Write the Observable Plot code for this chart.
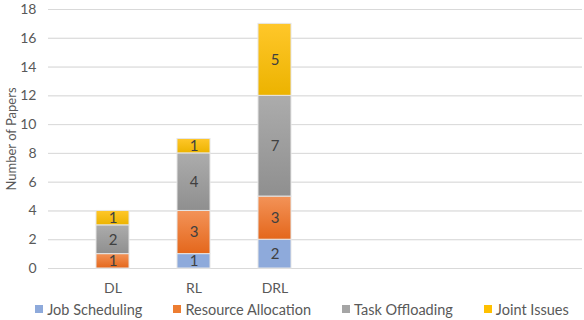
<!DOCTYPE html>
<html>
<head>
<meta charset="utf-8">
<script src="https://cdn.jsdelivr.net/npm/d3@7"></script>
<script src="https://cdn.jsdelivr.net/npm/@observablehq/plot@0.6"></script>
<style>
  html, body { margin: 0; padding: 0; background: #fff; }
  body { width: 584px; height: 320px; overflow: hidden; font-family: Lato, "Open Sans", sans-serif; }
  #legend { display: flex; justify-content: center; gap: 31px; font-size: 14.5px; color: #595959; height: 26px; align-items: center; margin-left: 20px; }
  #legend span.item { display: flex; align-items: center; }
  #legend i { display: inline-block; width: 8px; height: 8px; margin-right: 4px; }
</style>
</head>
<body>
<div id="chart"></div>
<div id="legend"></div>
<script>
const categories = ["DL", "RL", "DRL"];
const slots = ["DL", "RL", "DRL", "slot4", "slot5", "slot6"];
const series = ["Job Scheduling", "Resource Allocation", "Task Offloading", "Joint Issues"];
const jobScheduling      = [0, 1, 2];
const resourceAllocation = [1, 3, 3];
const taskOffloading     = [2, 4, 7];
const jointIssues        = [1, 1, 5];
const yTicks = [0, 2, 4, 6, 8, 10, 12, 14, 16, 18];

const colors = ["#8eaadb", "#ed7d31", "#a5a5a5", "#ffc000"];
const gradTop = ["#8eaadb", "#f39358", "#acacac", "#ffc72a"];
const gradBot = ["#8eaadb", "#e4671c", "#8f8f8f", "#ecb300"];
const gradIds = series.map((s, i) => "grad" + i);

const valuesBySeries = [jobScheduling, resourceAllocation, taskOffloading, jointIssues];
const data = [];
categories.forEach((c, ci) => {
  series.forEach((s, si) => {
    data.push({category: c, series: s, value: valuesBySeries[si][ci]});
  });
});

const chart = Plot.plot({
  width: 584,
  height: 296,
  marginTop: 9,
  marginBottom: 28,
  marginLeft: 48,
  marginRight: 2,
  style: {fontFamily: "Lato, 'Open Sans', sans-serif", fontSize: "14px", color: "#595959", background: "white"},
  x: {domain: slots, padding: 0.59, tickSize: 0, tickPadding: 15,
      tickFormat: d => categories.includes(d) ? d : "", label: null},
  y: {domain: [0, 18], ticks: yTicks, tickSize: 0, tickPadding: 12, grid: true,
      label: "Number of Papers", labelAnchor: "center", labelArrow: "none", labelOffset: 42},
  color: {domain: series, range: gradIds.map(id => `url(#${id})`)},
  marks: [
    Plot.gridY(yTicks, {stroke: "#d9d9d9", strokeOpacity: 1}),
    Plot.barY(data, {x: "category", y: "value", fill: "series", stroke: "#e6e6e6", strokeWidth: 1, order: series}),
    Plot.text(data.filter(d => d.value > 0), Plot.stackY({x: "category", y: "value", z: "series", text: "value", order: series, fill: "#404040", fontSize: 15}))
  ]
});

// gradient defs
const svg = d3.select(chart);
const defs = svg.insert("defs", ":first-child");
gradIds.forEach((id, i) => {
  const g = defs.append("linearGradient").attr("id", id).attr("x1", 0).attr("y1", 0).attr("x2", 0).attr("y2", 1);
  g.append("stop").attr("offset", "0%").attr("stop-color", gradTop[i]);
  g.append("stop").attr("offset", "100%").attr("stop-color", gradBot[i]);
});
svg.selectAll("g[aria-label='y-axis label'] text").style("font-size", "13px");

document.getElementById("chart").appendChild(chart);

const legend = document.getElementById("legend");
series.forEach((s, i) => {
  const item = document.createElement("span");
  item.className = "item";
  item.innerHTML = `<i style="background:${colors[i]}"></i>${s}`;
  legend.appendChild(item);
});
</script>
</body>
</html>
